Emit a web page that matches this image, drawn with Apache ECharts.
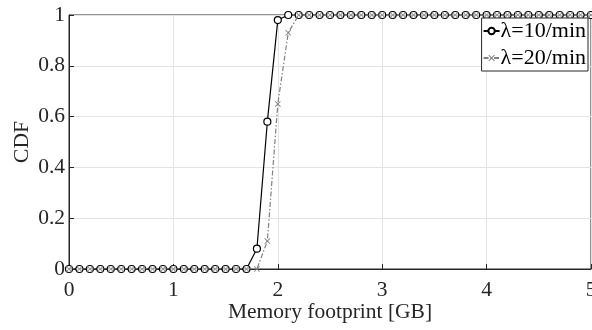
<!DOCTYPE html>
<html><head><meta charset="utf-8">
<script src="https://cdn.jsdelivr.net/npm/echarts@6/dist/echarts.min.js"></script>
<style>html,body{margin:0;padding:0;background:#fff}#c{width:592px;height:330px}</style>
</head><body><div id="c"></div>
<script>
var xValues = [0,0.1,0.2,0.3,0.4,0.5,0.6,0.7,0.8,0.9,1,1.1,1.2,1.3,1.4,1.5,1.6,1.7,1.8,1.9,2,2.1,2.2,2.3,2.4,2.5,2.6,2.7,2.8,2.9,3,3.1,3.2,3.3,3.4,3.5,3.6,3.7,3.8,3.9,4,4.1,4.2,4.3,4.4,4.5,4.6,4.7,4.8,4.9,5];
var cdf10 = [0,0,0,0,0,0,0,0,0,0,0,0,0,0,0,0,0,0,0.08,0.58,0.98,1,1,1,1,1,1,1,1,1,1,1,1,1,1,1,1,1,1,1,1,1,1,1,1,1,1,1,1,1,1];
var cdf20 = [0,0,0,0,0,0,0,0,0,0,0,0,0,0,0,0,0,0,0,0.11,0.65,0.93,1,1,1,1,1,1,1,1,1,1,1,1,1,1,1,1,1,1,1,1,1,1,1,1,1,1,1,1,1];
var seriesNames = ['\u03bb=10/min', '\u03bb=20/min'];
var xTicks = [0,1,2,3,4,5];
var yTicks = [0,0.2,0.4,0.6,0.8,1];

function pairs(ys){ return xValues.map(function(x,i){ return [x, ys[i]]; }); }
var font = 'Liberation Serif';
var cross = 'path://M0,1L1,0L5,4L9,0L10,1L6,5L10,9L9,10L5,6L1,10L0,9L4,5Z';
var chart = echarts.init(document.getElementById('c'), null, {renderer:'canvas'});
chart.setOption({
  animation:false,
  backgroundColor:'#fff',
  grid:{left:69, right:1, top:15, bottom:61, show:true, borderColor:'#262626', borderWidth:1,
        backgroundColor:'transparent', containLabel:false, outerBoundsMode:'none'},
  legend:{
    orient:'vertical', right:4, top:18, itemGap:5, itemWidth:16, itemHeight:8,
    backgroundColor:'#fff', borderColor:'#262626', borderWidth:1, borderRadius:0,
    padding:[2,2,2,1],
    textStyle:{fontFamily:font, fontSize:22, color:'#000', padding:[0,0,0,-4]},
    data:seriesNames
  },
  xAxis:{
    type:'value', min:0, max:5, interval:1,
    name:'Memory footprint [GB]', nameLocation:'middle', nameGap:32, nameMoveOverlap:false,
    nameTextStyle:{fontFamily:font, fontSize:21.5, color:'#262626'},
    axisLine:{lineStyle:{color:'#262626', width:1}},
    axisTick:{inside:true, length:5, lineStyle:{color:'#262626'}},
    axisLabel:{fontFamily:font, fontSize:21.5, color:'#262626', margin:10, showMaxLabel:true,
      formatter:function(v){ return xTicks.indexOf(v)>=0 ? String(v) : ''; }},
    splitLine:{show:true, lineStyle:{color:'#e3e3e3', width:1}}
  },
  yAxis:{
    type:'value', min:0, max:1, interval:0.2,
    name:'CDF', nameLocation:'middle', nameGap:36, nameRotate:90, nameMoveOverlap:false,
    nameTextStyle:{fontFamily:font, fontSize:21.5, color:'#262626'},
    axisLine:{show:true, lineStyle:{color:'#262626', width:1}},
    axisTick:{show:true, inside:true, length:5, lineStyle:{color:'#262626'}},
    axisLabel:{fontFamily:font, fontSize:21.5, color:'#262626', margin:4,
      formatter:function(v){ var r=Math.round(v*10)/10; return yTicks.indexOf(r)>=0 ? String(r) : ''; }},
    splitLine:{show:true, lineStyle:{color:'#e3e3e3', width:1}}
  },
  series:[
    {name:seriesNames[0], type:'line', data:pairs(cdf10), symbol:'circle', symbolSize:7, showAllSymbol:true,
     itemStyle:{color:'#fff', borderColor:'#000', borderWidth:1.2},
     lineStyle:{color:'#000', width:1.2}, z:2},
    {name:seriesNames[1], type:'line', data:pairs(cdf20), symbol:cross, symbolSize:6, showAllSymbol:true,
     itemStyle:{color:'#808080'},
     lineStyle:{color:'#808080', width:1.2, type:[5,2,1.5,2]}, z:3}
  ]
});
</script></body></html>
